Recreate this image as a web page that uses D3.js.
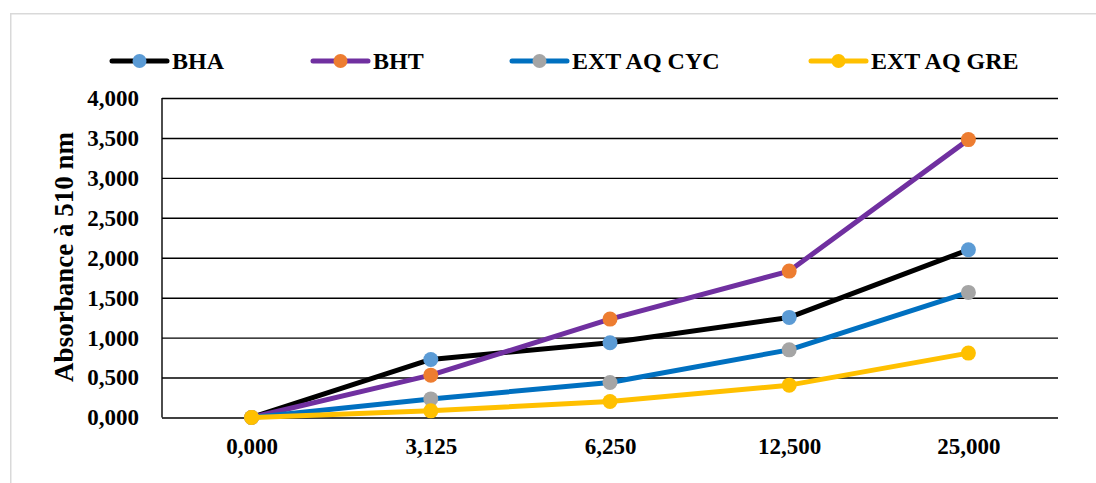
<!DOCTYPE html>
<html>
<head>
<meta charset="utf-8">
<script src="https://cdn.jsdelivr.net/npm/d3@7"></script>
<style>
  html, body { margin: 0; padding: 0; background: #fff; }
  svg { display: block; }
  text { font-family: "Liberation Serif", "Times New Roman", serif; font-weight: bold; fill: #000; }
</style>
</head>
<body>
<svg id="chart" width="1096" height="483"></svg>
<script>
// Concentrations (x categories)
const categories = ["0,000", "3,125", "6,250", "12,500", "25,000"];

// Absorbance values per series
const bha    = [0, 0.727, 0.935, 1.253, 2.100];
const bht    = [0, 0.530, 1.232, 1.833, 3.479];
const extCyc = [0, 0.233, 0.438, 0.847, 1.566];
const extGre = [0, 0.083, 0.200, 0.405, 0.806];

const seriesNames = ["BHA", "BHT", "EXT AQ CYC", "EXT AQ GRE"];
const lineColors   = ["#000000", "#7030A0", "#0070C0", "#FFC000"];
const markerColors = ["#5B9BD5", "#ED7D31", "#A5A5A5", "#FFC000"];

const yTicks = [0, 0.5, 1, 1.5, 2, 2.5, 3, 3.5, 4];
const yTitle = "Absorbance à 510 nm";

const serifBold = "'Liberation Serif', 'Times New Roman', serif";

const series = [bha, bht, extCyc, extGre].map((vals, i) => ({
  name: seriesNames[i], values: vals, line: lineColors[i], marker: markerColors[i]
}));

const svg = d3.select("#chart");

// Outer chart frame
svg.append("rect")
  .attr("x", 10.75).attr("y", 13.75)
  .attr("width", 1100).attr("height", 500)
  .attr("fill", "none").attr("stroke", "#d9d9d9").attr("stroke-width", 1.5);

const plot = { left: 162, right: 1058, top: 98, bottom: 417.5 };

const x = d3.scalePoint()
  .domain(categories)
  .range([plot.left, plot.right])
  .padding(0.5);

const y = d3.scaleLinear()
  .domain([0, 4])
  .range([plot.bottom, plot.top]);

const fmt = v => d3.format(".3f")(v).replace(".", ",");

// Horizontal gridlines and y labels
const yAxis = d3.axisLeft(y)
  .tickValues(yTicks)
  .tickSize(-(plot.right - plot.left))
  .tickPadding(23)
  .tickFormat(fmt);

const gy = svg.append("g")
  .attr("transform", `translate(${plot.left},0)`)
  .call(yAxis);
gy.select(".domain").remove();
gy.selectAll(".tick line").attr("stroke", "#000").attr("stroke-width", 1.4);
gy.selectAll(".tick text")
  .style("font-family", serifBold)
  .style("font-weight", "bold")
  .style("font-size", "23px")
  .attr("fill", "#000");

// Vertical axis line
svg.append("line")
  .attr("x1", plot.left).attr("x2", plot.left)
  .attr("y1", y(4)).attr("y2", y(0))
  .attr("stroke", "#000").attr("stroke-width", 1.4);

// Category labels
const xAxis = d3.axisBottom(x).tickSize(0).tickPadding(20);
const gx = svg.append("g")
  .attr("transform", `translate(0,${plot.bottom})`)
  .call(xAxis);
gx.select(".domain").remove();
gx.selectAll(".tick text")
  .style("font-family", serifBold)
  .style("font-weight", "bold")
  .style("font-size", "23px")
  .attr("fill", "#000");

// Y axis title
svg.append("text")
  .attr("transform", `translate(73,257) rotate(-90)`)
  .attr("text-anchor", "middle")
  .style("font-size", "27px")
  .text(yTitle);

// Series lines and markers
const line = d3.line()
  .x((d, i) => x(categories[i]))
  .y(d => y(d));

series.forEach(s => {
  const g = svg.append("g");
  g.append("path")
    .datum(s.values)
    .attr("d", line)
    .attr("fill", "none")
    .attr("stroke", s.line)
    .attr("stroke-width", 5)
    .attr("stroke-linejoin", "round")
    .attr("stroke-linecap", "round");
  g.selectAll("circle")
    .data(s.values)
    .join("circle")
    .attr("cx", (d, i) => x(categories[i]))
    .attr("cy", d => y(d))
    .attr("r", 7.5)
    .attr("fill", s.marker);
});

// Legend
const legendX = [112, 313, 512, 811];
const legendY = 61;
series.forEach((s, i) => {
  const g = svg.append("g").attr("transform", `translate(${legendX[i]},${legendY})`);
  g.append("line")
    .attr("x1", 0).attr("x2", 55)
    .attr("stroke", s.line).attr("stroke-width", 5)
    .attr("stroke-linecap", "round");
  g.append("circle")
    .attr("cx", 27.5).attr("cy", 0).attr("r", 7)
    .attr("fill", s.marker);
  g.append("text")
    .attr("x", 60).attr("y", 0)
    .attr("dy", "0.35em")
    .style("font-size", "24px")
    .text(s.name);
});
</script>
</body>
</html>
